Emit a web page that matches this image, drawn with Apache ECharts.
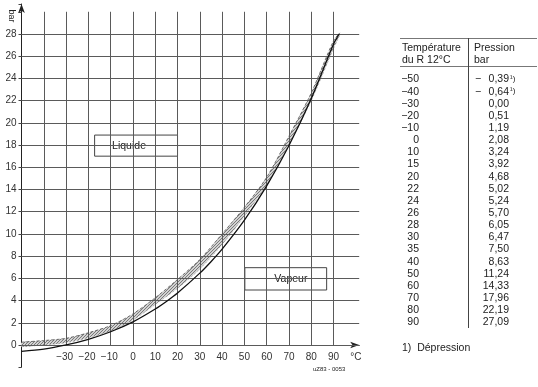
<!DOCTYPE html>
<html><head><meta charset="utf-8">
<script src="https://cdn.jsdelivr.net/npm/echarts@6/dist/echarts.min.js"></script>
<style>html,body{margin:0;padding:0;background:#fff}#c{width:538px;height:387px}</style>
</head><body><div id="c"></div>
<script>
// ---- data ----
const solidTemps = [-50, -40, -30, -20, -10, 0, 10, 15, 20, 30, 35, 40, 50, 60, 70, 80, 90, 92.5];
const solidPress = [-0.58, -0.38, 0.0, 0.51, 1.19, 2.08, 3.24, 3.92, 4.68, 6.47, 7.50, 8.63, 11.24, 14.33, 17.96, 22.19, 27.09, 28.0];
const bandTemps = [-50, -40, -30, -20, -10, 0, 10, 20, 30, 40, 50, 60, 70, 80, 90, 92.8];
const bandLow  = [-0.15, 0.0, 0.2, 0.65, 1.25, 2.25, 3.65, 5.1, 6.85, 9.05, 11.6, 14.4, 18.05, 22.0, 26.7, 27.9];
const bandHigh = [0.25, 0.4, 0.6, 1.1, 1.75, 2.8, 4.25, 5.9, 7.7, 10.0, 12.4, 15.1, 18.8, 22.7, 27.4, 28.1];
const xGridTicks = [-40, -30, -20, -10, 0, 10, 20, 30, 40, 50, 60, 70, 80, 90];
const yGridTicks = [0, 2, 4, 6, 8, 10, 12, 14, 16, 18, 20, 22, 24, 26, 28];
const tableTemps = ['−50', '−40', '−30', '−20', '−10', '0', '10', '15', '20', '22', '24', '26', '28', '30', '35', '40', '50', '60', '70', '80', '90'];
const tablePress = ['0,39', '0,64', '0,00', '0,51', '1,19', '2,08', '3,24', '3,92', '4,68', '5,02', '5,24', '5,70', '6,05', '6,47', '7,50', '8,63', '11,24', '14,33', '17,96', '22,19', '27,09'];
const tableDepression = [true, true];
const boxes = [
  {name: 'Liquide', t0: -17.2, p0: 18.9, t1: 20, p1: 17.0, pad: 18},
  {name: 'Vapeur', t0: 50.2, p0: 6.96, t1: 86.9, p1: 4.95, pad: 30}
];

const FONT = '"Liberation Sans", Arial, sans-serif';
const chart = echarts.init(document.getElementById('c'), null, {renderer: 'canvas'});

// stipple pattern for the grey band
const pc = document.createElement('canvas'); pc.width = 3; pc.height = 3;
const pctx = pc.getContext('2d');
pctx.fillStyle = '#d2d2d2'; pctx.fillRect(0, 0, 3, 3);
pctx.fillStyle = '#7a7a7a'; pctx.fillRect(0, 0, 1, 1); pctx.fillRect(2, 1, 1, 1); pctx.fillRect(1, 2, 1, 1);

const gridLines = [];
xGridTicks.forEach(t => gridLines.push([{coord: [t, 0]}, {coord: [t, 30]}]));
yGridTicks.forEach(p => gridLines.push([{coord: [-50, p]}, {coord: [101.5, p]}]));
gridLines.push([{coord: [-60, 0]}, {coord: [-50, 0]}]);

// table graphics
const TX = 419, PX = 509, ROW0 = 79.5, ROWH = 12.15;
const g = [];
g.push({type: 'line', shape: {x1: 400, y1: 38.5, x2: 537, y2: 38.5}, style: {stroke: '#777', lineWidth: 1}});
g.push({type: 'line', shape: {x1: 400, y1: 66.5, x2: 537, y2: 66.5}, style: {stroke: '#777', lineWidth: 1}});
g.push({type: 'line', shape: {x1: 468.5, y1: 38, x2: 468.5, y2: 328}, style: {stroke: '#444', lineWidth: 1}});
function txt(x, y, s, align, size) {
  return {type: 'text', x: x, y: y, style: {text: s, fill: '#222', font: (size || 10.5) + 'px ' + FONT,
    align: align || 'left', textAlign: align || 'left', verticalAlign: 'middle', textVerticalAlign: 'middle'}};
}
g.push(txt(402, 48, 'Température'));
g.push(txt(402, 60, 'du R 12°C'));
g.push(txt(474, 48, 'Pression'));
g.push(txt(474, 60, 'bar'));
tableTemps.forEach((t, i) => {
  const y = ROW0 + i * ROWH;
  g.push(txt(TX, y, t, 'right'));
  g.push(txt(PX, y, tablePress[i], 'right'));
  if (tableDepression[i]) {
    g.push(txt(475, y, '−'));
    g.push(txt(510, y - 1, '¹)', 'left', 8));
  }
});
g.push(txt(402, 348, '1)  Dépression'));
g.push({type: 'text', x: 11, y: 16, rotation: -Math.PI / 2,
  style: {text: 'bar', fill: '#222', font: '9px ' + FONT, align: 'center', textAlign: 'center', verticalAlign: 'middle', textVerticalAlign: 'middle'}});
g.push(txt(313, 369, 'uZ83 - 0053', 'left', 6));

chart.setOption({
  animation: false,
  backgroundColor: '#fff',
  grid: {left: 21.5, right: 178.8, top: 4, bottom: 19.8, containLabel: false},
  xAxis: {
    type: 'value', min: -50, max: 101.5, interval: 10, offset: -22.2,
    axisLine: {show: true, onZero: false, symbol: ['none', 'arrow'], symbolSize: [5, 9], lineStyle: {color: '#222', width: 1}},
    axisTick: {show: false}, splitLine: {show: false},
    axisLabel: {margin: 7, color: '#333', fontSize: 10, fontFamily: FONT,
      formatter: v => (v === 100 ? '°C' : (v < -30 || v > 90 || v % 10 !== 0) ? '' : (v < 0 ? '−' + Math.abs(v) + ' ' : String(v)))}
  },
  yAxis: {
    type: 'value', min: -2, max: 30.7, interval: 2,
    axisLine: {show: true, onZero: false, symbol: ['none', 'arrow'], symbolSize: [5, 9], lineStyle: {color: '#222', width: 1}},
    axisTick: {show: true, length: 3, lineStyle: {color: '#444'}}, splitLine: {show: false},
    axisLabel: {margin: 5, color: '#333', fontSize: 10, fontFamily: FONT,
      formatter: v => (v < 0 || v > 28) ? '' : String(v)}
  },
  graphic: {elements: g},
  series: [
    {type: 'line', z: 1, data: [], symbol: 'none', clip: false,
      markLine: {silent: true, symbol: ['none', 'none'], label: {show: false}, animation: false,
        lineStyle: {color: '#5a5a5a', width: 1, type: 'solid'}, data: gridLines}},
    {type: 'custom', z: 2, data: [[0]], silent: true,
      renderItem: function (params, api) {
        const pts = [];
        bandTemps.forEach((t, i) => pts.push(api.coord([t, bandLow[i]])));
        for (let i = bandTemps.length - 1; i >= 0; i--) pts.push(api.coord([bandTemps[i], bandHigh[i]]));
        return {type: 'polygon', shape: {points: pts, smooth: 0.2}, style: {fill: {image: pc, repeat: 'repeat'}, stroke: null}};
      }},
    {type: 'line', z: 3, data: bandTemps.map((t, i) => [t, bandHigh[i]]), symbol: 'none', smooth: 0.3,
      lineStyle: {color: '#555', width: 0.8, type: [3, 2]}},
    {type: 'line', z: 3, data: bandTemps.map((t, i) => [t, bandLow[i]]), symbol: 'none', smooth: 0.3,
      lineStyle: {color: '#999', width: 0.6, type: [2, 2]}},
    {type: 'line', z: 5, data: solidTemps.map((t, i) => [t, solidPress[i]]), symbol: 'none', smooth: 0.3,
      lineStyle: {color: '#111', width: 1.3}},
    {type: 'line', z: 6, data: [], symbol: 'none',
      markArea: {silent: true, itemStyle: {color: '#fff', borderColor: '#444', borderWidth: 1},
        label: {show: true, color: '#222', fontSize: 10.5, fontFamily: FONT},
        data: boxes.map(b => [{name: b.name, coord: [b.t0, b.p0], label: {position: 'insideLeft', distance: b.pad}}, {coord: [b.t1, b.p1]}])}}
  ]
});
</script>
</body></html>
